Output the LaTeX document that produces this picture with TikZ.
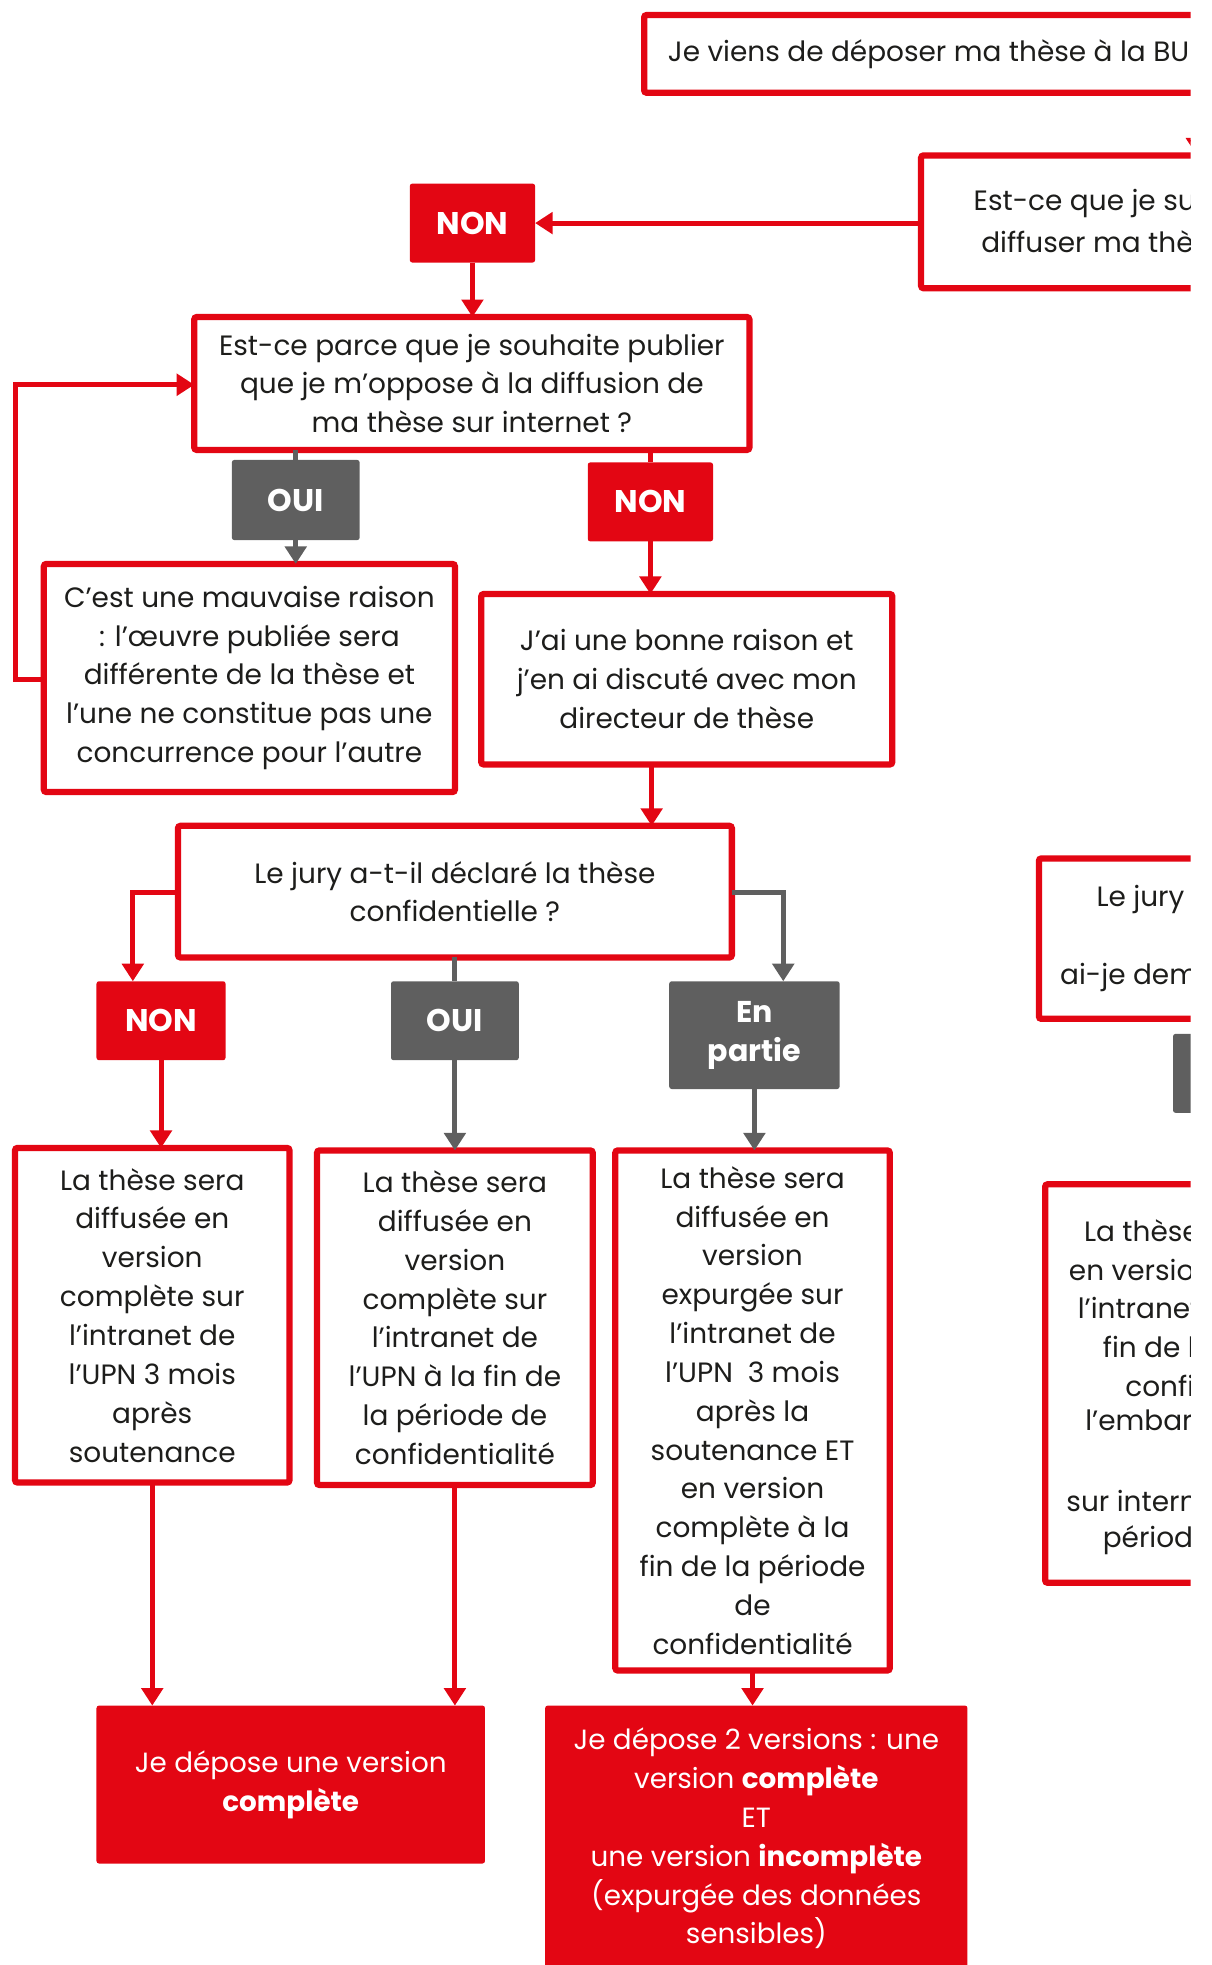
\documentclass[tikz,border=0pt]{standalone}
\usepackage{fontspec}
\setmainfont{Poppins}
\usetikzlibrary{arrows.meta}
\definecolor{upnred}{HTML}{E30613}
\definecolor{upngray}{HTML}{5F5F5F}
\definecolor{txt}{HTML}{1D1D1B}
\begin{document}
\begin{tikzpicture}[x=1pt,y=-1pt,
  every node/.style={inner sep=0pt, outer sep=0pt},
  qbox/.style={draw=upnred, line width=5pt, fill=white, rounded corners=2pt, align=center, text=txt, font=\fontsize{22.3}{31}\selectfont},
  plain/.style={text=txt, font=\fontsize{22.3}{31}\selectfont},
  tag/.style={rounded corners=2pt, text=white, align=center, font=\fontsize{25}{31}\selectfont\bfseries},
  redtag/.style={tag, fill=upnred},
  graytag/.style={tag, fill=upngray},
  endbox/.style={fill=upnred, rounded corners=2pt, text=white, align=center, font=\fontsize{22.2}{31}\selectfont},
  rarrow/.style={draw=upnred, line width=4pt, -{Triangle[length=14pt,width=17pt]}},
  garrow/.style={draw=upngray, line width=4pt, -{Triangle[length=14pt,width=17pt]}},
  rline/.style={draw=upnred, line width=4pt},
  gline/.style={draw=upngray, line width=4pt},
]
\useasboundingbox (0,0) rectangle (967,1568);
\begin{scope}
\clip (0,0) rectangle (950,1568);
% ---- boxes
\node[qbox, minimum width=496pt, minimum height=62pt, anchor=north west] (top) at (514,12) {};
\node[plain, anchor=west] (toptext) at (533,43) {Je viens de déposer ma thèse à la BU};
\node[qbox, minimum width=280pt, minimum height=106pt, anchor=north west] (q1) at (735,124) {};
\node[plain, anchor=west] (q1a) at (777,162) {Est-ce que je su};
\node[plain, anchor=west] (q1b) at (783,193) {diffuser ma thè};
\node[redtag, minimum width=100pt, minimum height=63pt] (non1) at (377,178) {NON};
\node[qbox, minimum width=443pt, minimum height=106pt] (q2) at (376.5,306) {Est-ce parce que je souhaite publier\\que je m’oppose à la diffusion de\\ma thèse sur internet ?};
\node[graytag, minimum width=102pt, minimum height=64pt] (oui1) at (236,399) {OUI};
\node[redtag, minimum width=100pt, minimum height=63pt] (non2) at (519,400.5) {NON};
\node[qbox, minimum width=328pt, minimum height=182pt] (r1) at (199,541) {C’est une mauvaise raison\\: l’œuvre publiée sera\\différente de la thèse et\\l’une ne constitue pas une\\concurrence pour l’autre};
\node[qbox, minimum width=328pt, minimum height=136pt] (r2) at (548,542) {J’ai une bonne raison et\\j’en ai discuté avec mon\\directeur de thèse};
\node[qbox, minimum width=442pt, minimum height=105pt] (q3) at (363,711.5) {Le jury a-t-il déclaré la thèse\\confidentielle ?};
\node[redtag, minimum width=103pt, minimum height=63pt] (non3) at (128.5,814.5) {NON};
\node[graytag, minimum width=102pt, minimum height=63pt] (oui3) at (363,814.5) {OUI};
\node[graytag, minimum width=136pt, minimum height=86pt, font=\fontsize{24}{31}\selectfont\bfseries] (part) at (602,826) {En\\partie};
\node[qbox, minimum width=219pt, minimum height=267pt] (b7) at (121.5,1049.5) {La thèse sera\\diffusée en\\version\\complète sur\\l’intranet de\\l’UPN 3 mois\\après\\soutenance};
\node[qbox, minimum width=220pt, minimum height=267pt] (b8) at (363,1051.5) {La thèse sera\\diffusée en\\version\\complète sur\\l’intranet de\\l’UPN à la fin de\\la période de\\confidentialité};
\node[qbox, minimum width=219pt, minimum height=415pt] (b9) at (600.5,1125.5) {La thèse sera\\diffusée en\\version\\expurgée sur\\l’intranet de\\l’UPN\ \ 3 mois\\après la\\soutenance ET\\en version\\complète à la\\fin de la période\\de\\confidentialité};
\node[endbox, minimum width=310pt, minimum height=126pt] (f1) at (232,1424) {Je dépose une version\\\textbf{complète}};
\node[endbox, minimum width=337pt, minimum height=212pt] (f2) at (603.5,1467) {Je dépose 2 versions : une\\version \textbf{complète}\\ET\\une version \textbf{incomplète}\\(expurgée des données\\sensibles)};
% right side (cut off)
\node[qbox, minimum width=181pt, minimum height=128pt, anchor=north west] (jury) at (829,685) {};
\node[plain, anchor=west] (jurya) at (875,718) {Le jury};
\node[plain, anchor=west] (juryb) at (846,780) {ai-je dem};
\node[graytag, minimum width=74pt, minimum height=63pt, anchor=north west] (tag4) at (936,825) {};
\node[qbox, minimum width=176pt, minimum height=318pt, anchor=north west] (rb) at (834,945) {};
\node[plain, anchor=west] (rb1) at (865,982) {La thèse};
\node[plain, anchor=west] (rb2) at (853,1013) {en versio};
\node[plain, anchor=west] (rb3) at (860,1044) {l’intranet};
\node[plain, anchor=west] (rb4) at (880,1075) {fin de l};
\node[plain, anchor=west] (rb5) at (898,1106) {confi};
\node[plain, anchor=west] (rb6) at (866,1136) {l’embarg};
\node[plain, anchor=west] (rb7) at (851,1198) {sur intern};
\node[plain, anchor=west] (rb8) at (880,1229) {périod};
% ---- connectors
\draw[rarrow] (top.south -| 955,0) -- (q1.north -| 955,0);
\draw[rarrow] (q1.west |- non1.east) -- (non1.east);
\draw[rarrow] (non1.south) -- (non1.south |- q2.north);
\draw[gline] (q2.south -| oui1.north) -- (oui1.north);
\draw[garrow] (oui1.south) -- (oui1.south |- r1.north);
\draw[rline] (q2.south -| non2.north) -- (non2.north);
\draw[rarrow] (non2.south) -- (non2.south |- r2.north);
\coordinate (loopa) at (12,542);
\coordinate (loopb) at (12,307);
\draw[rarrow] (r1.west |- loopa) -- (loopa) -- (loopb) -- (q2.west |- loopb);
\draw[rarrow] (520,610) coordinate (r2s) -- (r2s |- q3.north);
\coordinate (nonl) at (106,712);
\draw[rarrow] (q3.west |- nonl) -- (nonl) -- (nonl |- non3.north);
\draw[gline] (q3.south -| oui3.north) -- (oui3.north);
\coordinate (partr) at (625,712);
\draw[garrow] (q3.east |- partr) -- (partr) -- (partr |- part.north);
\draw[rarrow] (non3.south) -- (non3.south |- b7.north);
\draw[garrow] (oui3.south) -- (oui3.south |- b8.north);
\draw[garrow] (part.south) -- (part.south |- b9.north);
\draw[rarrow] (b7.south) -- (b7.south |- f1.north);
\draw[rarrow] (b8.south) -- (b8.south |- f1.north);
\draw[rarrow] (b9.south) -- (b9.south |- f2.north);
\end{scope}
\end{tikzpicture}
\end{document}
